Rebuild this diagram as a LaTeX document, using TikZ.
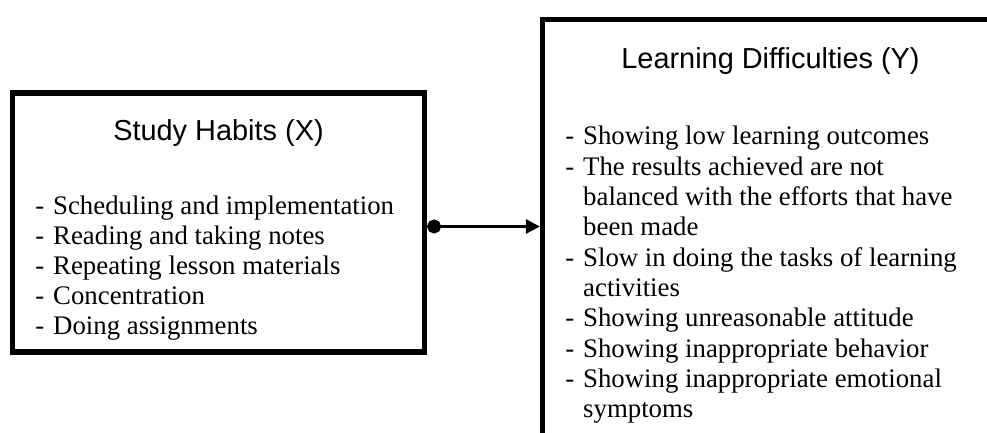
\documentclass[tikz,border=0pt]{standalone}
\usepackage{fontspec}
\setmainfont{Liberation Serif}
\newfontfamily\headfont{Liberation Sans}
\usetikzlibrary{arrows.meta, positioning}

\newcommand{\itemdash}{\makebox[8.9pt][l]{-}}
\newcommand{\itemgap}{\hspace*{8.9pt}}

\tikzset{
  frame/.style={draw, line width=2.6pt, inner sep=0pt},
  heading/.style={font=\headfont\fontsize{14.45}{17}\selectfont, inner sep=0pt, anchor=base},
  entry/.style={font=\fontsize{13.4}{15}\selectfont, inner sep=0pt, anchor=base west},
  link/.style={line width=1.35pt, {Circle[length=7pt]}-{Triangle[length=7pt,width=7pt]}}
}

\begin{document}
\begin{tikzpicture}[x=0.5pt, y=-0.5pt]
	\clip (0,0) rectangle (987,433);
	\draw (218.5,222.5) node[frame, minimum width=206pt, minimum height=129.5pt] (habits) {}
		(770.5,232.25) node[frame, minimum width=228pt, minimum height=212.75pt] (difficulties) {}
		(218.5,141) node[heading] (habitsT) {Study Habits (X)}
		(770.5,69) node[heading] (difficultiesT) {Learning Difficulties (Y)};

	% items of the left box
	\foreach \txt [count=\i from 0] in {{\itemdash Scheduling and implementation},
		{\itemdash Reading and taking notes},
		{\itemdash Repeating lesson materials},
		{\itemdash Concentration},
		{\itemdash Doing assignments}}
		\node[entry] (hab\i) at (35,{215+30*\i}) {\txt};

	% items of the right box
	\foreach \txt [count=\i from 0] in {{\itemdash Showing low learning outcomes},
		{\itemdash The results achieved are not},
		{\itemgap balanced with the efforts that have},
		{\itemgap been made},
		{\itemdash Slow in doing the tasks of learning},
		{\itemgap activities},
		{\itemdash Showing unreasonable attitude},
		{\itemdash Showing inappropriate behavior},
		{\itemdash Showing inappropriate emotional},
		{\itemgap symptoms}}
		\node[entry] (dif\i) at (565,{145+30.3*\i}) {\txt};

	\coordinate (from) at ([yshift=-2pt]habits.east);
	\draw[link] (from) -- (from -| difficulties.west);
\end{tikzpicture}
\end{document}
